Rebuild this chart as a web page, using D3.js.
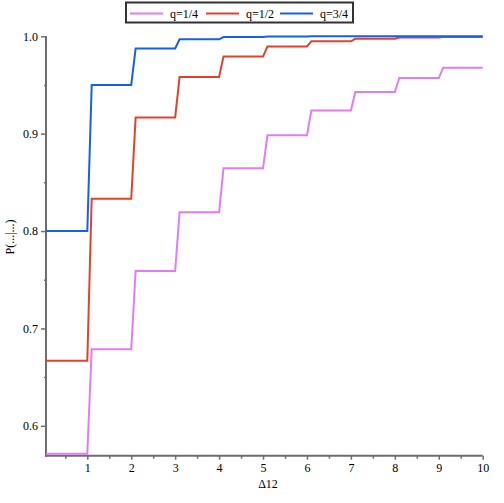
<!DOCTYPE html>
<html>
<head>
<meta charset="utf-8">
<script src="https://cdnjs.cloudflare.com/ajax/libs/d3/7.8.5/d3.min.js"></script>
<style>
  body { margin: 0; background: #fff; }
  svg text { font-family: "Liberation Serif", "Times New Roman", Times, serif !important; font-size: 12px; fill: #000; }
</style>
</head>
<body>
<svg class="chartSVG"></svg>
<script>
const svgWidth = 504;
const svgHeight = 503;

// step values at delta = 0..9
const quarterVals = [0.5714, 0.6786, 0.7589, 0.8192, 0.8644, 0.8983, 0.9237, 0.9428, 0.9571, 0.9678];
const halfVals    = [0.6667, 0.8333, 0.9167, 0.9583, 0.9792, 0.9896, 0.9948, 0.9974, 0.9987, 0.9993];
const threeVals   = [0.8000, 0.9500, 0.9875, 0.9969, 0.9992, 0.9998, 0.99995, 1.0, 1.0, 1.0];
const seriesNames = ["q=1/4", "q=1/2", "q=3/4"];
const colours = ["#e17cf5", "#e6402c", "#1460f2"];
const xTicks = [1, 2, 3, 4, 5, 6, 7, 8, 9, 10];
const yTicks = [0.6, 0.7, 0.8, 0.9, 1.0];

const svg = d3.select('.chartSVG')
  .attr("width", svgWidth)
  .attr("height", svgHeight);

var xMin = 0.06; // plot starts just right of zero
var x = d3.scaleLinear().domain([xMin, 10]).range([46, 482.7]);
var y = d3.scaleLinear().domain([0.5693, 1.0]).range([455.7, 36.3]);

// turn step values into a path: flat on [k+0.1, k+1], ramp up over 0.1
function stepPoints(vals) {
  var pts = [[xMin, vals[0]]];
  for (var k = 0; k < vals.length; k++) {
    pts.push([k + 1, vals[k]]);
    if (k + 1 < vals.length) pts.push([k + 1.1, vals[k + 1]]);
  }
  pts[pts.length - 1][0] = 10;
  return pts;
}

const line = d3.line()
  .x(function(d) { return x(d[0]); })
  .y(function(d) { return y(d[1]); });

const axisColour = "#6e6e6e";

// y axis
svg.append("line")
  .attr("x1", x(xMin)).attr("x2", x(xMin))
  .attr("y1", y(1.0)).attr("y2", y.range()[0] + 1)
  .attr("stroke", axisColour).attr("stroke-width", 2);
svg.append("g")
  .attr("transform", "translate(" + x(xMin) + ",0)")
  .call(d3.axisLeft(y).tickValues(yTicks).tickFormat(d3.format(".1f")).tickSize(5).tickPadding(3))
  .call(function(g) {
    g.select(".domain").remove();
    g.selectAll(".tick line").attr("stroke", axisColour).attr("stroke-width", 1.5);
  });
svg.append("g")
  .attr("transform", "translate(" + x(xMin) + ",0)")
  .call(d3.axisLeft(y).tickValues([0.65, 0.75, 0.85, 0.95]).tickFormat("").tickSize(2))
  .call(function(g) {
    g.select(".domain").remove();
    g.selectAll(".tick line").attr("stroke", axisColour).attr("stroke-width", 1.5);
  });

// x axis
svg.append("line")
  .attr("x1", x(xMin) - 1).attr("x2", x(10))
  .attr("y1", y.range()[0]).attr("y2", y.range()[0])
  .attr("stroke", axisColour).attr("stroke-width", 2);
svg.append("g")
  .attr("transform", "translate(0," + y.range()[0] + ")")
  .call(d3.axisBottom(x).tickValues(xTicks).tickFormat(d3.format("d")).tickSize(4).tickPadding(4))
  .call(function(g) {
    g.select(".domain").remove();
    g.selectAll(".tick line").attr("stroke", axisColour).attr("stroke-width", 1.5);
  });
svg.append("g")
  .attr("transform", "translate(0," + y.range()[0] + ")")
  .call(d3.axisBottom(x).tickValues(d3.range(0.5, 10, 1)).tickFormat("").tickSize(3))
  .call(function(g) {
    g.select(".domain").remove();
    g.selectAll(".tick line").attr("stroke", axisColour).attr("stroke-width", 1.5);
  });

// axis labels
svg.append("text")
  .text("\u0394" + "12")
  .attr("x", 268)
  .attr("y", 488)
  .attr("text-anchor", "middle");
svg.append("text")
  .text("P(...|...)")
  .attr("transform", "translate(14,237) rotate(-90)")
  .attr("text-anchor", "middle");

// lines
[quarterVals, halfVals, threeVals].forEach(function(vals, i) {
  svg.append("path")
    .datum(stepPoints(vals))
    .attr("fill", "none")
    .attr("stroke", colours[i])
    .attr("stroke-width", 2)
    .attr("d", line);
});

// legend
const legend = svg.append("g");
legend.append("rect")
  .attr("x", 126).attr("y", 2.5)
  .attr("width", 227).attr("height", 20)
  .attr("fill", "#fff").attr("stroke", "#333").attr("stroke-width", 2);
var legX = [130, 206, 280];
seriesNames.forEach(function(name, i) {
  legend.append("line")
    .attr("x1", legX[i]).attr("x2", legX[i] + 33)
    .attr("y1", 13.5).attr("y2", 13.5)
    .attr("stroke", colours[i]).attr("stroke-width", 2);
  legend.append("text")
    .text(name)
    .attr("x", legX[i] + 40)
    .attr("y", 17.5);
});
</script>
</body>
</html>
